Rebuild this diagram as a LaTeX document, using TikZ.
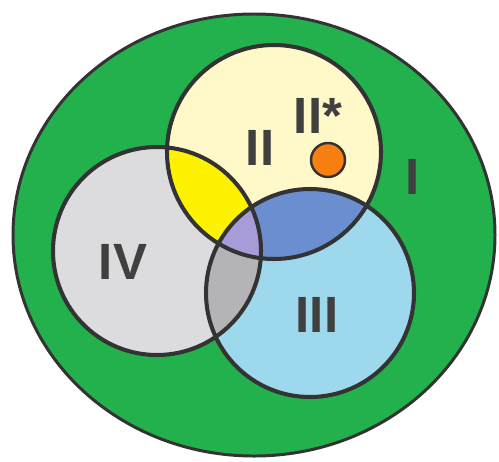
\documentclass[tikz,border=0pt]{standalone}
\usepackage{fontspec}
\setmainfont{Liberation Sans}
\usepackage{tikz}
\definecolor{fieldgreen}{RGB}{34,177,76}
\definecolor{paleyellow}{RGB}{255,248,200}
\definecolor{brightyellow}{RGB}{255,242,0}
\definecolor{palegray}{RGB}{220,220,222}
\definecolor{midgray}{RGB}{180,180,182}
\definecolor{paleblue}{RGB}{158,216,236}
\definecolor{midblue}{RGB}{106,142,208}
\definecolor{lavender}{RGB}{168,156,216}
\definecolor{dotorange}{RGB}{247,127,18}
\definecolor{rim}{RGB}{51,51,51}
\definecolor{labelgray}{RGB}{64,64,64}
\tikzset{
  rimline/.style={draw=rim, line width=2.3pt},
  setlabel/.style={font=\fontsize{29}{30}\selectfont\bfseries, text=labelgray, inner sep=0pt},
}
\begin{document}
\begin{tikzpicture}[x=0.02cm, y=0.02cm]
  \useasboundingbox (0,0) rectangle (499,461);
  % centres of the sets
  \coordinate (cI)   at (254,226);
  \coordinate (cII)  at (274,309);
  \coordinate (cIII) at (310,168);
  \coordinate (cIV)  at (157,210);

  % outer set
  \fill[fieldgreen] (cI) ellipse [x radius=241, y radius=221];
  \draw[rim, line width=1.7pt] (cI) ellipse [x radius=241, y radius=221];

  % single sets
  \fill[paleyellow] (cII) circle [radius=107];
  \fill[palegray] (cIV) circle [radius=104];
  \fill[paleblue] (cIII) circle [radius=104];

  % pairwise overlaps
  \begin{scope}
    \clip (cII) circle [radius=107];
    \fill[brightyellow] (cIV) circle [radius=104];
    \fill[midblue] (cIII) circle [radius=104];
  \end{scope}
  \begin{scope}
    \clip (cIV) circle [radius=104];
    \fill[midgray] (cIII) circle [radius=104];
  \end{scope}
  % triple overlap
  \begin{scope}
    \clip (cII) circle [radius=107];
    \clip (cIV) circle [radius=104];
    \fill[lavender] (cIII) circle [radius=104];
  \end{scope}

  % outlines
  \draw[rimline] (cII) circle [radius=107];
  \draw[rimline] (cIV) circle [radius=104];
  \draw[rimline] (cIII) circle [radius=104];

  % special element
  \fill[dotorange, draw=rim, line width=1.4pt] (328,301) circle [radius=17];

  % labels
  \node[setlabel] (lI)    at (413,284) {I};
  \node[setlabel] (lII)   at (260,313) {II};
  \node[setlabel] (lIIs)  at (318,345) {II*};
  \node[setlabel] (lIII)  at (317,146) {III};
  \node[setlabel] (lIV)   at (123,199) {IV};
\end{tikzpicture}
\end{document}
